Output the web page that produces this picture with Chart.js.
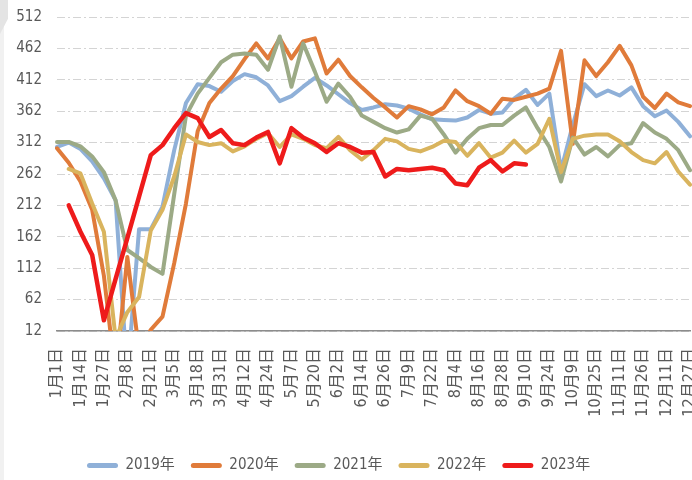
<!DOCTYPE html>
<html><head><meta charset="utf-8">
<script src="https://cdn.jsdelivr.net/npm/chart.js@4.4.0/dist/chart.umd.min.js"></script>
<style>
html,body{margin:0;padding:0;background:#fff;overflow:hidden;width:692px;height:480px;}
#c{position:absolute;left:0;top:0;}
#strip{position:absolute;left:0;top:0;width:4px;height:480px;background:#f1f1f1;}
#corner{position:absolute;left:0;top:0;width:8px;height:34px;background:#e4e4e4;clip-path:polygon(0 0,100% 0,100% 55%,0 100%);}
</style></head><body>
<canvas id="c" width="692" height="483"></canvas>
<div id="strip"></div><div id="corner"></div>
<script>
const tickLabels = ['1月1日','1月14日','1月27日','2月8日','2月21日','3月5日','3月18日','3月31日','4月12日','4月24日','5月7日','5月20日','6月2日','6月14日','6月26日','7月9日','7月22日','8月4日','8月16日','8月28日','9月10日','9月24日','10月9日','10月25日','11月11日','11月26日','12月11日','12月27日'];
const categories = [];
tickLabels.forEach((t, i) => { categories.push(t); if (i < tickLabels.length - 1) categories.push(''); });

const yTicks = [12, 62, 112, 162, 212, 262, 312, 362, 412, 462, 512];

const s2019 = [305,312,302,282,255,220,-60,174,174,210,300,375,405,402,393,410,421,416,403,378,386,401,415,403,389,375,364,368,373,371,366,357,349,348,347,352,364,358,360,382,396,372,390,268,340,405,386,395,387,400,370,354,363,345,322];
const s2020 = [303,280,250,205,100,-60,130,-20,14,35,120,215,330,375,398,418,445,470,446,478,446,473,478,422,444,418,400,383,368,352,370,365,357,368,395,378,370,358,382,380,385,390,398,458,310,443,418,440,466,435,385,367,390,376,370];
const s2021 = [313,313,306,290,265,220,141,128,114,103,230,355,390,415,440,452,454,452,428,481,401,470,425,377,406,385,355,345,335,328,333,355,350,325,296,318,335,340,340,355,368,335,305,250,320,293,305,290,308,311,343,328,318,300,268];
const s2022 = [null,270,263,215,170,0,42,66,172,205,258,325,313,308,311,298,306,318,327,305,325,318,308,303,321,300,285,300,318,314,302,298,305,315,313,291,311,288,296,315,296,310,350,265,318,323,325,325,314,297,284,279,297,266,245];
const s2023 = [null,212,170,133,29,95,160,226,292,308,335,359,351,321,332,311,308,320,329,279,335,320,311,297,311,305,296,297,258,270,268,270,272,268,247,244,272,284,266,279,277];

const seriesNames = ['2019年','2020年','2021年','2022年','2023年'];
const seriesData = [s2019, s2020, s2021, s2022, s2023];
const seriesColors = ['#8FB0D8','#E07B3A','#9CAA86','#D9B45E','#EE1B1B'];
const seriesWidths = [4, 4, 4, 4, 4.5];

const FONT = "'Liberation Sans Narrow','DejaVu Sans Condensed','Noto Sans CJK SC',sans-serif";
const TEXT = '#595959';
const LEGEND_LEFT = 87;

const datasets = [];
for (let i = seriesNames.length - 1; i >= 0; i--) {
  datasets.push({
    label: seriesNames[i],
    data: seriesData[i],
    borderColor: seriesColors[i],
    backgroundColor: seriesColors[i],
    borderWidth: seriesWidths[i],
    pointRadius: 0,
    tension: 0,
    borderJoinStyle: 'round',
    borderCapStyle: 'round',
    spanGaps: false
  });
}

const legendShift = {
  id: 'legendShift',
  afterLayout(chart) {
    const L = chart.legend;
    if (!L || !L.lineWidths) return;
    const p = L.options.labels.padding;
    const start = (L.left + p + L.right - L.lineWidths[0]) / 2;
    const d = start - LEGEND_LEFT;
    L.left -= d; L.right -= d;
  }
};

new Chart(document.getElementById('c'), {
  type: 'line',
  data: { labels: categories, datasets },
  options: {
    responsive: false,
    animation: false,
    events: [],
    layout: { padding: { left: 0, right: 2, top: 17, bottom: 0 } },
    scales: {
      x: {
        grid: { display: false, drawTicks: false },
        border: { display: true, color: '#8C8C8C', width: 1.5 },
        ticks: {
          autoSkip: false, minRotation: 90, maxRotation: 90, padding: 17,
          color: TEXT, font: { family: FONT, size: 16 },
          callback: (v, i) => categories[i]
        },
        afterFit(s) { s.height = 111; s.paddingRight = 0; s.paddingLeft = 0; }
      },
      y: {
        min: 12, max: 512,
        afterBuildTicks(s) { s.ticks = yTicks.map(v => ({ value: v })); },
        grid: { color: '#D4D4D4', lineWidth: 1, drawTicks: false },
        border: { display: false, dash: [8, 3, 2, 3] },
        ticks: { padding: 15, color: TEXT, font: { family: FONT, size: 15 } },
        afterFit(s) { s.width = 57; s.paddingTop = 0; s.paddingBottom = 0; }
      }
    },
    plugins: {
      legend: {
        position: 'bottom',
        reverse: true,
        labels: {
          boxWidth: 31, boxHeight: 5, padding: 16,
          color: TEXT, font: { family: FONT, size: 15 },
          generateLabels(chart) {
            const items = Chart.defaults.plugins.legend.labels.generateLabels(chart);
            items.forEach(it => { it.lineWidth = 0; it.fillStyle = it.strokeStyle; it.borderRadius = 2.5; });
            return items;
          }
        }
      },
      tooltip: { enabled: false }
    }
  },
  plugins: [legendShift]
});
</script>
</body></html>
